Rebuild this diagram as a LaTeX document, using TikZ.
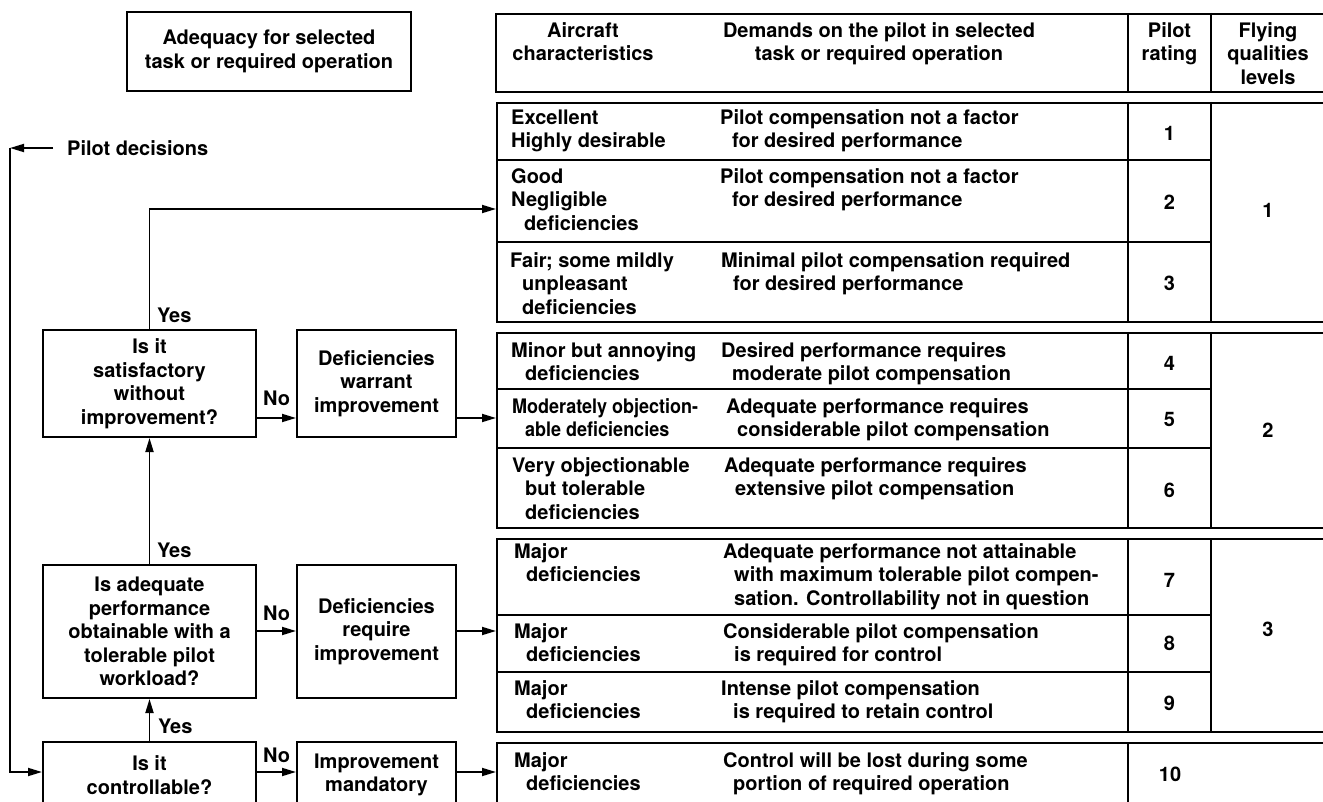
\documentclass[tikz,border=0pt]{standalone}
\usepackage{fontspec}
\usepackage{graphicx}
\setmainfont{TeX Gyre Heros}
\usetikzlibrary{arrows.meta}
\newcommand\fst{\rule{0pt}{15pt}}
\newcommand\cnd[1]{\scalebox{0.9}[1]{#1}}
\newcommand\ind{\hspace*{12pt}}
\begin{document}
\begin{tikzpicture}[x=1pt,y=-1pt,
  every node/.style={font=\fontsize{20}{23.5}\selectfont\bfseries},
  box/.style={draw,line width=2pt,inner sep=0pt,align=center},
  grp/.style={draw,line width=2pt,inner sep=0pt,anchor=north west},
  cell/.style={anchor=north west,inner sep=0pt,align=left},
  hcell/.style={anchor=north,inner sep=0pt,align=center},
  num/.style={inner sep=0pt},
  lbl/.style={anchor=base west,inner sep=0pt},
  ln/.style={line width=1.8pt},
  arr/.style={line width=1.8pt,-{Triangle[length=14pt,width=8pt]}}]
\useasboundingbox (0,0) rectangle (1323,802);
\clip (0,0) rectangle (1323,802);
\fill[white] (0,0) rectangle (1323,802);

% ---------- table groups ----------
\node[grp,minimum width=835pt,minimum height=78pt] (G0) at (495,13) {};
\node[grp,minimum width=834pt,minimum height=219pt] (G1) at (496,102) {};
\node[grp,minimum width=834pt,minimum height=195pt] (G2) at (496,332) {};
\node[grp,minimum width=834pt,minimum height=193pt] (G3) at (496,538) {};
\node[grp,minimum width=834pt,minimum height=100pt] (G4) at (496,742) {};

% column lines
\foreach \ya/\yb in {13/91,102/321,332/527,538/731}{
  \draw[ln] (1128,\ya) -- (1128,\yb);
  \draw[ln] (1211,\ya) -- (1211,\yb);
}
\draw[ln] (1128,742) -- (1128,810);
% row lines
\foreach \yr in {160,242,389,448,615,672}{
  \draw[ln] (496,\yr) -- (1211,\yr);
}

% header
\node[hcell] (h1) at (583,22) {\fst Aircraft\\characteristics};
\node[hcell] (h2) at (879,22) {\fst Demands on the pilot in selected\\task or required operation};
\node[hcell] (h3) at (1169.5,22) {\fst Pilot\\rating};
\node[hcell] (h4) at (1268,22) {\fst Flying\\qualities\\levels};

% rows
\node[cell] (a1) at (511,109) {\fst Excellent\\Highly desirable};
\node[cell] (b1) at (720,109) {\fst Pilot compensation not a factor\\\ind for desired performance};
\node[num] (n1) at (1169.5,133) {1};

\node[cell] (a2) at (511,168) {\fst Good\\Negligible\\\hspace*{13pt}deficiencies};
\node[cell] (b2) at (720,168) {\fst Pilot compensation not a factor\\\ind for desired performance};
\node[num] (n2) at (1169.5,202) {2};

\node[cell] (a3) at (510,252) {\fst Fair; some mildly\\\ind unpleasant\\\ind deficiencies};
\node[cell] (b3) at (721,252) {\fst Minimal pilot compensation required\\\ind for desired performance};
\node[num] (n3) at (1169.5,283) {3};

\node[num] (L1) at (1268,210) {1};

\node[cell] (a4) at (511,342) {\fst Minor but annoying\\\hspace*{14pt}deficiencies};
\node[cell] (b4) at (721,342) {\fst Desired performance requires\\\hspace*{11pt}moderate pilot compensation};
\node[num] (n4) at (1169.5,363) {4};

\node[cell] (a5) at (512,398) {\fst\cnd{Moderately objection-}\\\hspace*{13pt}\cnd{able deficiencies}};
\node[cell] (b5) at (726,398) {\fst Adequate performance requires\\\hspace*{11pt}considerable pilot compensation};
\node[num] (n5) at (1169.5,419) {5};

\node[cell] (a6) at (512,457) {\fst Very objectionable\\\hspace*{13pt}but tolerable\\\hspace*{13pt}deficiencies};
\node[cell] (b6) at (724,457) {\fst Adequate performance requires\\\hspace*{11pt}extensive pilot compensation};
\node[num] (n6) at (1169.5,490) {6};

\node[num] (L2) at (1268,430) {2};

\node[cell] (a7) at (514,543) {\fst Major\\\ind deficiencies};
\node[cell] (b7) at (723,543) {\fst Adequate performance not attainable\\\hspace*{11pt}with maximum tolerable pilot compen-\\\hspace*{11pt}sation. Controllability not in question};
\node[num] (n7) at (1169.5,580) {7};

\node[cell] (a8) at (514,623) {\fst Major\\\ind deficiencies};
\node[cell] (b8) at (723,623) {\fst Considerable pilot compensation\\\hspace*{11pt}is required for control};
\node[num] (n8) at (1169.5,643) {8};

\node[cell] (a9) at (514,680) {\fst Major\\\ind deficiencies};
\node[cell] (b9) at (721,680) {\fst Intense pilot compensation\\\ind is required to retain control};
\node[num] (n9) at (1169.5,703) {9};

\node[num] (L3) at (1268,629) {3};

\node[cell] (a10) at (514,752) {\fst Major\\\ind deficiencies};
\node[cell] (b10) at (723,752) {\fst Control will be lost during some\\\hspace*{10pt}portion of required operation};
\node[num] (n10) at (1170,774) {10};

% ---------- flow chart ----------
\node[box,minimum width=284pt,minimum height=79pt] (ad) at (269,51.5)
  {Adequacy for selected\\task or required operation};

\node[box,minimum width=213pt,minimum height=107pt] (q1) at (149.5,383.5)
  {Is it\\satisfactory\\without\\improvement?};
\node[box,minimum width=159pt,minimum height=107pt] (d1) at (376.5,383.5)
  {Deficiencies\\warrant\\improvement};
\node[box,minimum width=213pt,minimum height=133pt] (q2) at (149.5,631.5)
  {Is adequate\\performance\\obtainable with a\\tolerable pilot\\workload?};
\node[box,minimum width=159pt,minimum height=133pt] (d2) at (376.5,631.5)
  {Deficiencies\\require\\improvement};
\node[box,minimum width=213pt,minimum height=66pt] (q3) at (149.5,775)
  {Is it\\controllable?};
\node[box,minimum width=159pt,minimum height=66pt] (d3) at (376.5,775)
  {Improvement\\mandatory};

\coordinate (ya) at (0,418);
\coordinate (yb) at (0,631);
\coordinate (yc) at (0,772);
\coordinate (yy) at (0,209);
\coordinate (pdc) at (10,148);

\draw[arr] (q1.east |- ya) -- (d1.west |- ya);
\draw[arr] (d1.east |- ya) -- (G2.west |- ya);
\draw[arr] (q2.east |- yb) -- (d2.west |- yb);
\draw[arr] (d2.east |- yb) -- (G3.west |- yb);
\draw[arr] (q3.east |- yc) -- (d3.west |- yc);
\draw[arr] (d3.east |- yc) -- (G4.west |- yc);

\draw[arr] (q2.north) -- (q1.south);
\draw[arr] (q3.north) -- (q2.south);
\draw[arr] (q1.north) |- (G1.west |- yy);

\node[anchor=west,inner sep=0pt] (pd) at (67,148) {Pilot decisions};
\draw[arr] ([xshift=-14pt]pd.west) -- (pdc);
\draw[arr] (pdc) |- (q3.west |- yc);

\node[lbl] (y1) at (157,323) {Yes};
\node[lbl] (y2) at (157,557) {Yes};
\node[lbl] (y3) at (158,733) {Yes};
\node[lbl] (no1) at (263,405) {No};
\node[lbl] (no2) at (263,620) {No};
\node[lbl] (no3) at (263,762) {No};
\end{tikzpicture}
\end{document}
